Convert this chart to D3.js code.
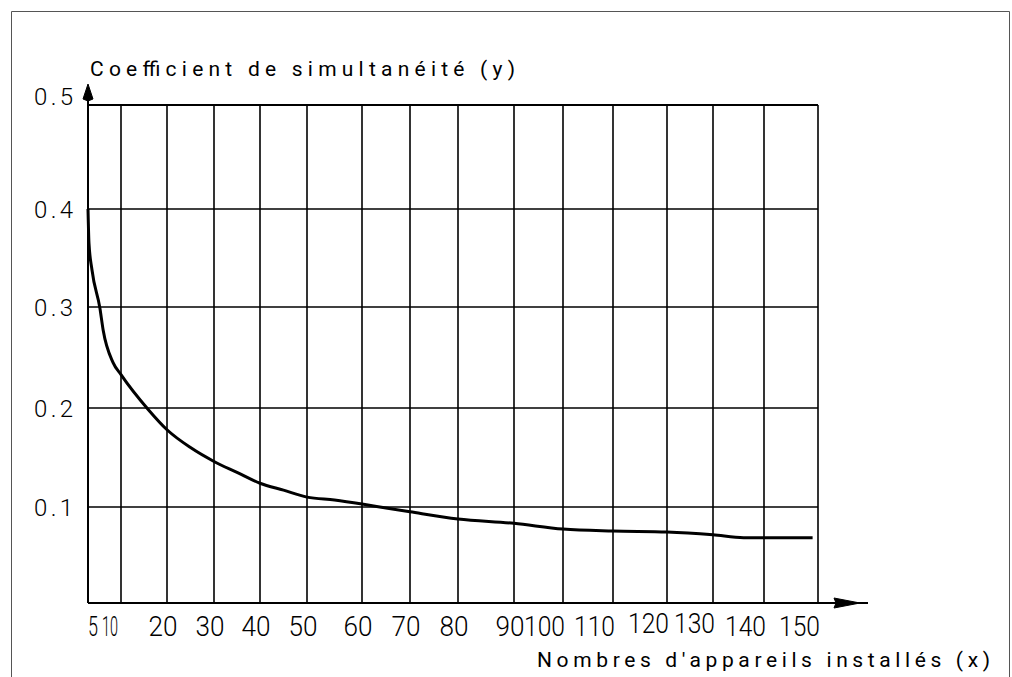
<!DOCTYPE html>
<html>
<head>
<meta charset="utf-8">
<script src="https://cdn.jsdelivr.net/npm/d3@7"></script>
<style>
    body { margin: 0; background: #fff; }
    text { font-family: Roboto, Lato, "Liberation Sans", sans-serif; font-weight: 300; fill: #000; }
    text.title { font-weight: 400; }
</style>
</head>
<body>
<div id="chart"></div>
<script>
/* ---------------------- Data ---------------------- */
var xTicks = [5, 10, 20, 30, 40, 50, 60, 70, 80, 90, 100, 110, 120, 130, 140, 150];
var yTicks = [0, 0.1, 0.2, 0.3, 0.4, 0.5];
var yTickLabels = ["", "0.1", "0.2", "0.3", "0.4", "0.5"];

// Nombre d'appareils (x) / coefficient (y)
var nbAppareils = [5, 5.15, 5.6, 6.8, 7.3, 8.8, 10, 16, 20, 25, 30, 35, 40, 45, 50, 55, 60, 65, 70, 80, 90, 100, 110, 120, 130, 136, 140, 149];
var coefficient = [0.400, 0.365, 0.338, 0.299, 0.277, 0.245, 0.233, 0.198, 0.178, 0.160, 0.146, 0.135, 0.124, 0.117, 0.110, 0.107, 0.103, 0.099, 0.095, 0.0875, 0.083, 0.077, 0.075, 0.074, 0.071, 0.068, 0.068, 0.068];

var yTitle = "Coefficient de simultanéité (y)";
var xTitle = "Nombres d'appareils installés (x)";

/* -------------------- Layout --------------------- */
var W = 1012, H = 677;

// The drawing was made by hand in CAD: grid spacing is not regular,
// so the scales are piecewise linear over the tick values.
var xScale = d3.scaleLinear()
    .domain(xTicks)
    .range([88, 121, 167, 214, 260, 307, 362, 410, 458, 514, 563, 613, 667, 713, 764, 818]);

var yScale = d3.scaleLinear()
    .domain(yTicks)
    .range([603, 507, 408, 307, 209, 105]);

var svg = d3.select("#chart")
    .append("svg")
    .attr("width", W)
    .attr("height", H);

svg.append("rect").attr("width", W).attr("height", H).attr("fill", "#fff");

// Frame
svg.append("path")
    .attr("d", `M11.5,${H} V11.5 H1009.5 V${H}`)
    .attr("fill", "none")
    .attr("stroke", "#555")
    .attr("stroke-width", 1);

/* --------------------- Grid ---------------------- */
var x0 = xScale(xTicks[0]), x1 = xScale(xTicks[xTicks.length - 1]);
var y0 = yScale(0), y1 = yScale(0.5);

svg.append("g")
    .selectAll("line")
    .data(xTicks.slice(1))
    .enter()
    .append("line")
    .attr("x1", d => xScale(d)).attr("x2", d => xScale(d))
    .attr("y1", y1).attr("y2", y0)
    .attr("stroke", "#000")
    .attr("stroke-width", 1.6);

svg.append("g")
    .selectAll("line")
    .data(yTicks.slice(1))
    .enter()
    .append("line")
    .attr("x1", x0).attr("x2", x1)
    .attr("y1", d => yScale(d)).attr("y2", d => yScale(d))
    .attr("stroke", "#000")
    .attr("stroke-width", d => d == 0.5 ? 2 : 1.6);

/* --------------------- Axes ---------------------- */
// y axis with arrow
svg.append("line")
    .attr("x1", x0).attr("x2", x0)
    .attr("y1", y0).attr("y2", y1 - 8)
    .attr("stroke", "#000").attr("stroke-width", 2);

svg.append("path")
    .attr("d", `M${x0},${y1 - 21} L${x0 + 5},${y1 - 6} L${x0},${y1 - 4} L${x0 - 5},${y1 - 6} Z`)
    .attr("fill", "#000")
    .attr("stroke", "#000")
    .attr("stroke-linejoin", "round");

// x axis with arrow
svg.append("line")
    .attr("x1", x0).attr("x2", x1 + 50)
    .attr("y1", y0).attr("y2", y0)
    .attr("stroke", "#000").attr("stroke-width", 2);

svg.append("path")
    .attr("d", `M${x1 + 16},${y0 - 5} L${x1 + 42},${y0} L${x1 + 16},${y0 + 5} L${x1 + 18},${y0} Z`)
    .attr("fill", "#000")
    .attr("stroke", "#000")
    .attr("stroke-linejoin", "round");

/* -------------------- Labels --------------------- */
svg.append("g")
    .selectAll("text")
    .data(yTicks.slice(1))
    .enter()
    .append("text")
    .attr("x", 73)
    .attr("y", d => yScale(d) + (d == 0.5 ? 0 : 8.5))
    .attr("text-anchor", "end")
    .attr("font-size", 24)
    .attr("textLength", 39)
    .attr("lengthAdjust", "spacing")
    .text((d, i) => yTickLabels[i + 1]);

// Tick labels were placed by hand under the grid lines
function tickAnchor(d) {
    if (d <= 10) return "start";
    if (d >= 100) return "end";
    return "middle";
}
function tickShift(d) {
    if (d == 5) return 0;
    if (d == 10) return -19;
    if (d >= 100) return 2;
    return -4;
}
function tickWidth(d) {
    if (d == 5) return 10;
    if (d == 10) return 16;
    if (d >= 100) return 41;
    return 29;
}

svg.append("g")
    .selectAll("text")
    .data(xTicks)
    .enter()
    .append("text")
    .attr("x", d => xScale(d) + tickShift(d))
    .attr("y", d => (d == 120 || d == 130) ? 633 : 636)
    .attr("text-anchor", d => tickAnchor(d))
    .attr("font-size", 27)
    .attr("textLength", d => tickWidth(d))
    .attr("lengthAdjust", "spacingAndGlyphs")
    .text(d => d);

svg.append("text")
    .attr("class", "title")
    .attr("x", 90)
    .attr("y", 76)
    .attr("font-size", 21)
    .attr("textLength", 425)
    .attr("lengthAdjust", "spacing")
    .text(yTitle);

svg.append("text")
    .attr("class", "title")
    .attr("x", 537)
    .attr("y", 667)
    .attr("font-size", 21)
    .attr("textLength", 453)
    .attr("lengthAdjust", "spacing")
    .text(xTitle);

/* --------------------- Curve --------------------- */
var points = nbAppareils.map((x, i) => [x, coefficient[i]]);

var line = d3.line()
    .x(d => xScale(d[0]))
    .y(d => yScale(d[1]))
    .curve(d3.curveMonotoneX);

svg.append("path")
    .datum(points)
    .attr("d", line)
    .attr("fill", "none")
    .attr("stroke", "#000")
    .attr("stroke-width", 3)
    .attr("stroke-linejoin", "round");
</script>
</body>
</html>
